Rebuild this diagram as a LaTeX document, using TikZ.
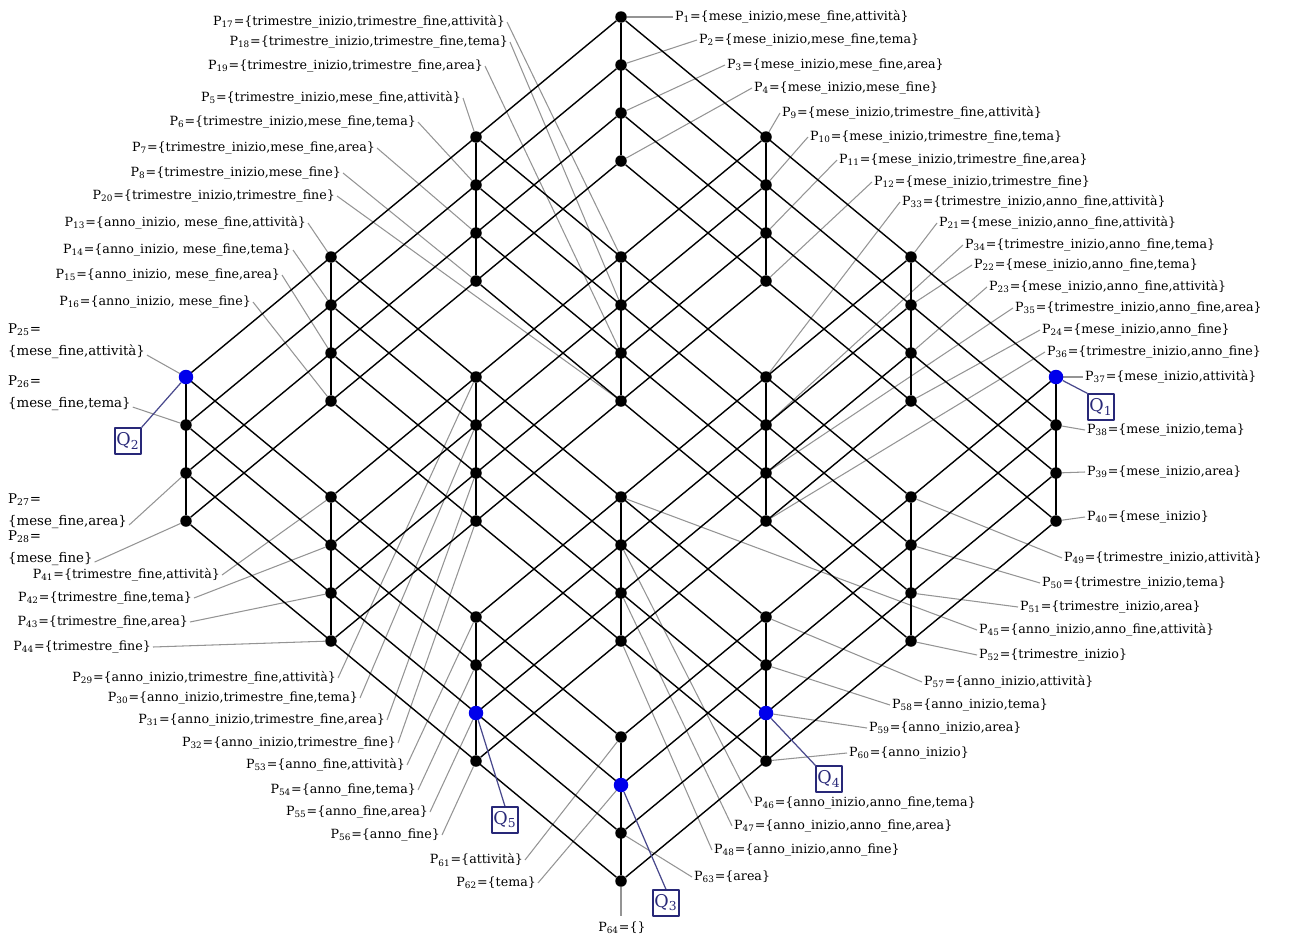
\documentclass[tikz,border=0pt]{standalone}
\usepackage{fontspec}
\setmainfont{DejaVu Serif}
\usetikzlibrary{backgrounds}

\pgfdeclarelayer{leader}
\pgfsetlayers{leader,background,main}

\definecolor{qnavy}{RGB}{40,40,120}
\definecolor{qblue}{RGB}{0,0,235}

\begin{document}
\begin{tikzpicture}[x=0.02cm, y=-0.02cm, line cap=round, line join=round,
	font=\fontsize{7.2}{9}\selectfont]
	\def\dx{145}
	\def\dy{120}
	\def\dk{48}
	
	%======================
	% STYLES
	%======================
	\tikzset{
		vtx/.style={circle, fill=black, inner sep=0pt, minimum size=0.23cm},
		qvtx/.style={circle, fill=qblue, inner sep=0pt, minimum size=0.29cm},
		latt/.style={black, line width=0.8pt},
		chain/.style={black, line width=1.1pt},
		lead/.style={black!42, line width=0.6pt},
		lblL/.style={anchor=east, inner sep=1pt},
		lblR/.style={anchor=west, inner sep=1pt},
		lbl2/.style={anchor=north west, align=left, inner sep=1pt,
			font=\fontsize{7.6}{12.5}\selectfont},
		qbox/.style={draw=qnavy, line width=0.7pt, fill=white, text=qnavy,
			minimum size=0.52cm, inner sep=0pt, font=\fontsize{10}{12}\selectfont},
		qline/.style={qnavy!85, line width=0.7pt}
	}
	
	\useasboundingbox (0,0) rectangle (1299,940);
	
	% lattice points: i = inizio, j = fine, k = attivita/tema/area/none
	\foreach \i in {0,...,3}
	\foreach \j in {0,...,3}
	\foreach \k in {0,...,3}
	\node[vtx] (n\i\j\k) at ({621-\dx*\i+\dx*\j},{17+\dy*(\i+\j)+\dk*\k}) {};
	
	% highlighted points
	\node[qvtx] (b1) at (n030) {};
	\node[qvtx] (b2) at (n300) {};
	\node[qvtx] (b3) at (n331) {};
	\node[qvtx] (b4) at (n232) {};
	\node[qvtx] (b5) at (n322) {};
	
	% lattice edges
	\begin{scope}[on background layer]
		\foreach \a in {0,...,3}
		\foreach \b in {0,...,3} {
			\draw[latt] (n0\a\b) -- (n3\a\b);
			\draw[latt] (n\a0\b) -- (n\a3\b);
			\draw[chain] (n\a\b0) -- (n\a\b3);
		}
	\end{scope}
	
	% labels on the left
	\foreach \id/\xx/\yy/\txt/\tgt in {
		17/507/22/{trimestre\_inizio,trimestre\_fine,attività}/110,
		18/510/42/{trimestre\_inizio,trimestre\_fine,tema}/111,
		19/485/66/{trimestre\_inizio,trimestre\_fine,area}/112,
		5/463/98/{trimestre\_inizio,mese\_fine,attività}/100,
		6/418/122/{trimestre\_inizio,mese\_fine,tema}/101,
		7/377/148/{trimestre\_inizio,mese\_fine,area}/102,
		8/343/173/{trimestre\_inizio,mese\_fine}/103,
		20/337/196/{trimestre\_inizio,trimestre\_fine}/113,
		13/308/223/{anno\_inizio, mese\_fine,attività}/200,
		14/293/250/{anno\_inizio, mese\_fine,tema}/201,
		15/282/275/{anno\_inizio, mese\_fine,area}/202,
		16/253/302/{anno\_inizio, mese\_fine}/203,
		41/222/575/{trimestre\_fine,attività}/310,
		42/194/598/{trimestre\_fine,tema}/311,
		43/190/622/{trimestre\_fine,area}/312,
		44/153/647/{trimestre\_fine}/313,
		29/338/678/{anno\_inizio,trimestre\_fine,attività}/210,
		30/360/698/{anno\_inizio,trimestre\_fine,tema}/211,
		31/387/720/{anno\_inizio,trimestre\_fine,area}/212,
		32/398/743/{anno\_inizio,trimestre\_fine}/213,
		53/407/765/{anno\_fine,attività}/320,
		54/418/790/{anno\_fine,tema}/321,
		55/430/812/{anno\_fine,area}/322,
		56/442/835/{anno\_fine}/323,
		61/525/860/{attività}/330,
		62/538/883/{tema}/331} {
		\node[lblL] (p\id) at (\xx,\yy) {P\textsubscript{\id}=\{\txt\}};
		\begin{pgfonlayer}{leader}
			\draw[lead] (p\id.east) -- (n\tgt);
		\end{pgfonlayer}
	}
	
	% labels on the right
	\foreach \id/\xx/\yy/\txt/\tgt in {
		1/673/17/{mese\_inizio,mese\_fine,attività}/000,
		2/697/40/{mese\_inizio,mese\_fine,tema}/001,
		3/725/65/{mese\_inizio,mese\_fine,area}/002,
		4/752/88/{mese\_inizio,mese\_fine}/003,
		9/780/113/{mese\_inizio,trimestre\_fine,attività}/010,
		10/808/137/{mese\_inizio,trimestre\_fine,tema}/011,
		11/837/160/{mese\_inizio,trimestre\_fine,area}/012,
		12/872/182/{mese\_inizio,trimestre\_fine}/013,
		33/900/202/{trimestre\_inizio,anno\_fine,attività}/120,
		21/937/223/{mese\_inizio,anno\_fine,attività}/020,
		34/963/245/{trimestre\_inizio,anno\_fine,tema}/121,
		22/972/265/{mese\_inizio,anno\_fine,tema}/021,
		23/987/287/{mese\_inizio,anno\_fine,attività}/022,
		35/1013/308/{trimestre\_inizio,anno\_fine,area}/122,
		24/1040/330/{mese\_inizio,anno\_fine}/023,
		36/1045/352/{trimestre\_inizio,anno\_fine}/123,
		37/1083/377/{mese\_inizio,attività}/030,
		38/1085/430/{mese\_inizio,tema}/031,
		39/1085/472/{mese\_inizio,area}/032,
		40/1085/517/{mese\_inizio}/033,
		49/1062/558/{trimestre\_inizio,attività}/130,
		50/1040/583/{trimestre\_inizio,tema}/131,
		51/1018/607/{trimestre\_inizio,area}/132,
		45/977/630/{anno\_inizio,anno\_fine,attività}/220,
		52/977/655/{trimestre\_inizio}/133,
		57/922/682/{anno\_inizio,attività}/230,
		58/890/705/{anno\_inizio,tema}/231,
		59/867/728/{anno\_inizio,area}/232,
		60/847/753/{anno\_inizio}/233,
		46/752/803/{anno\_inizio,anno\_fine,tema}/221,
		47/732/826/{anno\_inizio,anno\_fine,area}/222,
		48/712/850/{anno\_inizio,anno\_fine}/223,
		63/692/877/{area}/332} {
		\node[lblR] (p\id) at (\xx,\yy) {P\textsubscript{\id}=\{\txt\}};
		\begin{pgfonlayer}{leader}
			\draw[lead] (p\id.west) -- (n\tgt);
		\end{pgfonlayer}
	}
	
	% two-line labels, far left
	\node[lbl2] (p25) at (6,322) {P\textsubscript{25}=\\\{mese\_fine,attività\}};
	\node[lbl2] (p26) at (6,374) {P\textsubscript{26}=\\\{mese\_fine,tema\}};
	\node[lbl2] (p27) at (6,492) {P\textsubscript{27}=\\\{mese\_fine,area\}};
	\node[lbl2] (p28) at (6,529) {P\textsubscript{28}=\\\{mese\_fine\}};
	% bottom element
	\node (p64) at (622,928) {P\textsubscript{64}=\{\}};
	
	\begin{pgfonlayer}{leader}
		\draw[lead] (p25.south east) ++(0,-6) -- (n300);
		\draw[lead] (p26.south east) ++(0,-6) -- (n301);
		\draw[lead] (p27.south east) ++(0,-6) -- (n302);
		\draw[lead] (p28.south east) ++(0,-6) -- (n303);
		\draw[lead] (p64.north -| n333) -- (n333);
	\end{pgfonlayer}
	
	% queries
	\node[qbox] (q1) at (1101,407) {Q\textsubscript{1}};
	\node[qbox] (q2) at (128,441) {Q\textsubscript{2}};
	\node[qbox] (q3) at (666,903) {Q\textsubscript{3}};
	\node[qbox] (q4) at (829,779) {Q\textsubscript{4}};
	\node[qbox] (q5) at (505,820) {Q\textsubscript{5}};
	
	\begin{scope}[on background layer]
		\draw[qline] (q1.north west) -- (b1);
		\draw[qline] (q2.north east) -- (b2);
		\draw[qline] (q3.north) -- (b3);
		\draw[qline] (q4.north west) -- (b4);
		\draw[qline] (q5.north) -- (b5);
	\end{scope}
\end{tikzpicture}
\end{document}
